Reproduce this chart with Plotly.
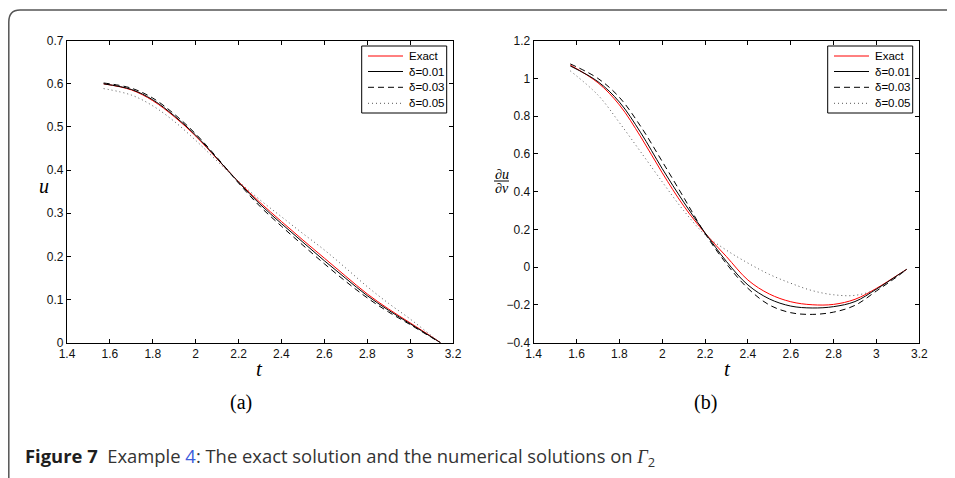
import plotly.graph_objects as go

# ---------------- data ----------------
t = [1.5708, 1.7, 1.8, 1.9, 2.0, 2.1, 2.2, 2.3, 2.4, 2.5, 2.6, 2.7, 2.8, 2.9, 3.0, 3.1, 3.1416]

u_exact = [0.600, 0.586, 0.561, 0.524, 0.479, 0.426, 0.373, 0.325, 0.281, 0.238, 0.196, 0.154, 0.113, 0.078, 0.046, 0.014, 0.000]
u_d01 = [0.600, 0.587, 0.563, 0.526, 0.481, 0.427, 0.372, 0.321, 0.276, 0.233, 0.190, 0.149, 0.109, 0.075, 0.044, 0.013, 0.000]
u_d03 = [0.602, 0.590, 0.567, 0.530, 0.484, 0.429, 0.370, 0.316, 0.270, 0.226, 0.183, 0.142, 0.104, 0.071, 0.042, 0.012, 0.000]
u_d05 = [0.589, 0.574, 0.549, 0.513, 0.469, 0.421, 0.374, 0.331, 0.292, 0.253, 0.215, 0.173, 0.130, 0.091, 0.055, 0.016, 0.000]

v_exact = [1.071, 0.977, 0.860, 0.690, 0.500, 0.325, 0.180, 0.056, -0.068, -0.142, -0.183, -0.199, -0.197, -0.170, -0.112, -0.041, -0.011]
v_d01 = [1.066, 0.983, 0.875, 0.712, 0.522, 0.345, 0.182, 0.030, -0.094, -0.168, -0.206, -0.216, -0.209, -0.182, -0.116, -0.042, -0.011]
v_d03 = [1.077, 1.000, 0.900, 0.745, 0.560, 0.370, 0.178, 0.018, -0.112, -0.200, -0.241, -0.250, -0.238, -0.202, -0.126, -0.047, -0.011]
v_d05 = [1.040, 0.912, 0.766, 0.610, 0.452, 0.300, 0.172, 0.090, 0.022, -0.038, -0.085, -0.124, -0.146, -0.149, -0.117, -0.043, -0.011]

series_names = ["Exact", "δ=0.01", "δ=0.03", "δ=0.05"]

x_ticks = [1.4, 1.6, 1.8, 2.0, 2.2, 2.4, 2.6, 2.8, 3.0, 3.2]
x_ticktext = ["1.4", "1.6", "1.8", "2", "2.2", "2.4", "2.6", "2.8", "3", "3.2"]
yl_ticks = [0, 0.1, 0.2, 0.3, 0.4, 0.5, 0.6, 0.7]
yl_ticktext = ["0", "0.1", "0.2", "0.3", "0.4", "0.5", "0.6", "0.7"]
yr_ticks = [-0.4, -0.2, 0, 0.2, 0.4, 0.6, 0.8, 1.0, 1.2]
yr_ticktext = ["\u22120.4", "\u22120.2", "0", "0.2", "0.4", "0.6", "0.8", "1", "1.2"]

# ---------------- layout helpers ----------------
W, H = 955, 478
OFF = 8  # the page body margin that shifts the figure in the browser
SANS = "Liberation Sans, Arial, Helvetica, sans-serif"
SERIF = "Liberation Serif, Times New Roman, Times, serif"


def px(x):
    return (x - OFF) / W


def py(y):
    return 1 - (y - OFF) / H


styles = [
    dict(color="#ff0000", width=1),
    dict(color="#000000", width=1),
    dict(color="#000000", width=1, dash="6px,4px"),
    dict(color="#555555", width=1, dash="1px,3px"),
]

fig = go.Figure()

left_series = [u_exact, u_d01, u_d03, u_d05]
right_series = [v_exact, v_d01, v_d03, v_d05]

for name, ys, st in zip(series_names, left_series, styles):
    fig.add_trace(go.Scatter(x=t, y=ys, mode="lines", name=name, line=dict(shape="spline", **st),
                             xaxis="x", yaxis="y", showlegend=False))
for name, ys, st in zip(series_names, right_series, styles):
    fig.add_trace(go.Scatter(x=t, y=ys, mode="lines", name=name, line=dict(shape="spline", **st),
                             xaxis="x2", yaxis="y2", showlegend=False))

axis_common = dict(showline=True, linecolor="black", linewidth=1.3, mirror="ticks", ticks="inside",
                   ticklen=4, tickcolor="black", showgrid=False, zeroline=False, automargin=False,
                   tickfont=dict(family=SANS, size=12, color="#111"))

ytop, ybot = 40.7, 342.7
fig.update_layout(
    width=W, height=H,
    margin=dict(l=0, r=0, t=0, b=0, autoexpand=False),
    paper_bgcolor="white", plot_bgcolor="white",
    xaxis=dict(domain=[px(67), px(453)], range=[1.4, 3.2], tickvals=x_ticks, ticktext=x_ticktext,
               anchor="y", **axis_common),
    yaxis=dict(domain=[py(ybot), py(ytop)], range=[0, 0.7], tickvals=yl_ticks, ticktext=yl_ticktext,
               anchor="x", **axis_common),
    xaxis2=dict(domain=[px(533.7), px(919.3)], range=[1.4, 3.2], tickvals=x_ticks, ticktext=x_ticktext,
                anchor="y2", **axis_common),
    yaxis2=dict(domain=[py(ybot), py(ytop)], range=[-0.4, 1.2], tickvals=yr_ticks, ticktext=yr_ticktext,
                anchor="x2", **axis_common),
    showlegend=False,
)

ann = []
shapes = []

# axis labels and panel labels
ann.append(dict(text="<i>u</i>", x=px(44), y=py(186), font=dict(family=SERIF, size=20, color="black")))
ann.append(dict(text="<i>∂u</i>", x=px(501.5), y=py(174), font=dict(family=SERIF, size=14, color="black")))
ann.append(dict(text="<i>∂ν</i>", x=px(501.5), y=py(188.5), font=dict(family=SERIF, size=14, color="black")))
ann.append(dict(text="<i>t</i>", x=px(259), y=py(369), font=dict(family=SERIF, size=21, color="black")))
ann.append(dict(text="<i>t</i>", x=px(727), y=py(369), font=dict(family=SERIF, size=21, color="black")))
ann.append(dict(text="(a)", x=px(241), y=py(402), font=dict(family=SERIF, size=20, color="black")))
ann.append(dict(text="(b)", x=px(705), y=py(402), font=dict(family=SERIF, size=20, color="black")))
ann.append(dict(
    text="<b><span style='color:#1e1e1e'>Figure 7</span></b>\u00a0\u00a0Example <span style='color:#3b5bdb'>4</span>: The exact solution and the "
         "numerical solutions on <span style='font-family:Liberation Serif'><i>Γ</i></span><sub>2</sub>",
    x=px(23), y=py(457), xanchor="left",
    font=dict(family="Open Sans", size=18.4, color="#333")))

# legends (MATLAB style boxes)
entry_y = [56, 71.5, 87.3, 103.3]
for x_off in (0, 466):
    bx0, bx1 = 361.7 + x_off, 446.7 + x_off
    shapes.append(dict(type="rect", xref="paper", yref="paper", x0=px(bx0), x1=px(bx1), y0=py(113), y1=py(46),
                       line=dict(color="black", width=1), fillcolor="white", layer="above"))
    for name, st, ey in zip(series_names, styles, entry_y):
        shapes.append(dict(type="line", xref="paper", yref="paper", x0=px(368 + x_off), x1=px(403 + x_off),
                           y0=py(ey), y1=py(ey), line=st, layer="above"))
        ann.append(dict(text=name, x=px(406.5 + x_off), y=py(ey), xanchor="left",
                        font=dict(family=SANS, size=11.5, color="black")))

for a in ann:
    a.setdefault("xanchor", "center")
    a.update(xref="paper", yref="paper", yanchor="middle", showarrow=False)

# fraction bar of the right y label
shapes.append(dict(type="line", xref="paper", yref="paper", x0=px(494), x1=px(509), y0=py(181), y1=py(181),
                   line=dict(color="black", width=1)))
# figure frame (top + left with rounded corner)
fx = OFF + 0.8
shapes.append(dict(type="path", xref="paper", yref="paper",
                   path=f"M {px(fx)},{py(490)} L {px(fx)},{py(22)} Q {px(fx)},{py(10)} {px(20)},{py(10)} L {px(970)},{py(10)}",
                   line=dict(color="#555", width=1.5)))

fig.update_layout(annotations=ann, shapes=shapes)

fig.write_html("out.html")
